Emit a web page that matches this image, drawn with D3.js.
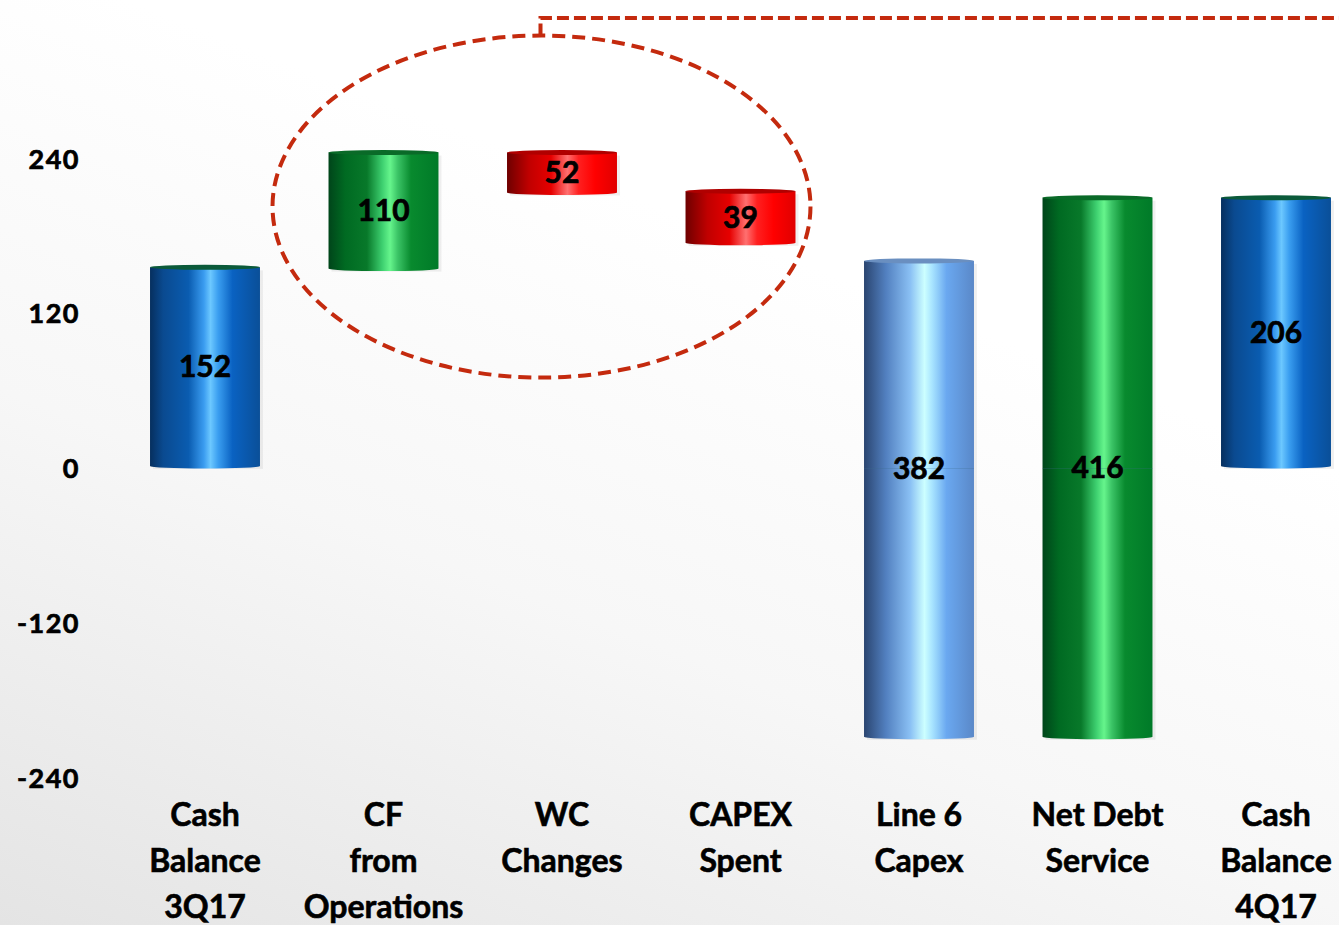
<!DOCTYPE html>
<html>
<head>
<meta charset="utf-8">
<script src="https://cdn.jsdelivr.net/npm/d3@7"></script>
<style>
html,body{margin:0;padding:0;background:#fff;}
svg{display:block;font-family:Lato,'Noto Sans',sans-serif;font-weight:bold;}
</style>
</head>
<body>
<svg id="chart" width="1339" height="925"></svg>
<script>
// categories (multi-line labels)
var categories=[
    ['Cash','Balance','3Q17'],
    ['CF','from','Operations'],
    ['WC','Changes'],
    ['CAPEX','Spent'],
    ['Line 6','Capex'],
    ['Net Debt','Service'],
    ['Cash','Balance','4Q17']
]
// bar extents as drawn (top / bottom in axis units)
var barTop=[156,245,245,215,161,210,210]
var barBottom=[2,155,214,175,-208,-208,2]
// value labels
var labels=[152,110,52,39,382,416,206]
// where the label sits (null = middle of bar)
var labelAt=[null,null,null,null,0,null,null]
var colorKind=['blue','green','red','red','light','green','blue']
var yTicks=[240,120,0,-120,-240]

var svg=d3.select('#chart')
var W=1339,H=925
var defs=svg.append('defs')

// background
var bg=defs.append('linearGradient').attr('id','bg')
    .attr('x1',0).attr('y1',1).attr('x2',0.45).attr('y2',0.2)
bg.append('stop').attr('offset',0).attr('stop-color','#e4e4e4')
bg.append('stop').attr('offset',0.55).attr('stop-color','#f7f7f7')
bg.append('stop').attr('offset',1).attr('stop-color','#ffffff')
svg.append('rect').attr('width',W).attr('height',H).attr('fill','url(#bg)')

var grads={
    blue:[[0,'#062f5e'],[0.12,'#0a4a90'],[0.35,'#0a5cb0'],[0.49,'#3a9cf0'],[0.55,'#6cc8ff'],[0.62,'#3a9ef0'],[0.75,'#0a62c2'],[1,'#0a4f98']],
    green:[[0,'#00451a'],[0.15,'#006a22'],[0.35,'#08792a'],[0.49,'#3ed070'],[0.56,'#66f58c'],[0.63,'#3bc466'],[0.75,'#088a2e'],[1,'#007a28']],
    red:[[0,'#6e0000'],[0.2,'#c00000'],[0.4,'#e60000'],[0.55,'#ff7070'],[0.65,'#ff2020'],[0.8,'#ff0000'],[1,'#e00000']],
    light:[[0,'#2a4570'],[0.2,'#5280c0'],[0.42,'#8ac0f4'],[0.55,'#ccffff'],[0.62,'#a8e4ff'],[0.75,'#6aa8f0'],[1,'#5a88c8']]
}
for(let k in grads){
    var g=defs.append('linearGradient').attr('id','g-'+k)
        .attr('x1',0).attr('y1',0).attr('x2',1).attr('y2',0)
    grads[k].forEach(s=>g.append('stop').attr('offset',s[0]).attr('stop-color',s[1]))
}
var topCol={blue:'#0b5a3a',green:'#0a6a28',red:'#b00000',light:'#6a8fc0'}

var x=d3.scaleBand()
    .domain(d3.range(categories.length))
    .range([115.75,1365.25])
    .paddingInner(0.384).paddingOuter(0.192)
var y=d3.scaleLinear().domain([-240,240]).range([778,159])
var bw=x.bandwidth()

// y tick labels
svg.append('g').selectAll('text')
    .data(yTicks).join('text')
    .attr('x',80).attr('y',d=>y(d))
    .attr('dy','0.36em')
    .attr('text-anchor','end')
    .attr('font-size',27)
    .attr('letter-spacing',1.5)
    .attr('fill','#000').attr('stroke','#000').attr('stroke-width',0.7)
    .text(d=>d)

// bars as cylinders
var bars=svg.append('g').selectAll('g')
    .data(d3.range(categories.length)).join('g')
bars.append('rect')
    .attr('x',i=>x(i)+3).attr('width',bw)
    .attr('y',i=>y(barTop[i])+3).attr('height',i=>y(barBottom[i])-y(barTop[i]))
    .attr('fill','#000').attr('opacity',0.06)
bars.append('path')
    .attr('d',i=>{
        var x0=x(i),x1=x0+bw,t=y(barTop[i]),b=y(barBottom[i]),ry=2.5
        return 'M'+x0+','+t+' L'+x0+','+b+' A'+(bw/2)+','+ry+' 0 0 0 '+x1+','+b+' L'+x1+','+t+' Z'
    })
    .attr('fill',i=>'url(#g-'+colorKind[i]+')')
bars.append('ellipse')
    .attr('cx',i=>x(i)+bw/2).attr('cy',i=>y(barTop[i]))
    .attr('rx',bw/2).attr('ry',2.5)
    .attr('fill',i=>topCol[colorKind[i]])
// faint split line at zero for bars crossing it
bars.filter(i=>barTop[i]>0&&barBottom[i]<-5)
    .append('line')
    .attr('x1',i=>x(i)).attr('x2',i=>x(i)+bw)
    .attr('y1',y(0)).attr('y2',y(0))
    .attr('stroke','#3a6a8a').attr('stroke-opacity',0.25).attr('stroke-width',1)

// value labels
bars.append('text')
    .attr('x',i=>x(i)+bw/2)
    .attr('y',i=>labelAt[i]==null?y((barTop[i]+barBottom[i])/2):y(labelAt[i]))
    .attr('dy','0.36em')
    .attr('text-anchor','middle')
    .attr('font-size',30)
    .attr('fill','#000').attr('stroke','#000').attr('stroke-width',0.7)
    .text(i=>labels[i])

// category labels
var cat=svg.append('g').selectAll('text')
    .data(d3.range(categories.length)).join('text')
    .attr('text-anchor','middle')
    .attr('font-size',32)
    .attr('fill','#000').attr('stroke','#000').attr('stroke-width',0.6)
cat.selectAll('tspan')
    .data(i=>categories[i].map(s=>({s:s,i:i})))
    .join('tspan')
    .attr('x',d=>x(d.i)+bw/2)
    .attr('y',(d,j)=>826+j*46)
    .text(d=>d.s)

// dashed ellipse annotation around the operating items
var exL=x(1)-56,exR=x(3)+bw+15
var eyT=y(barTop[1])-117,eyB=y(barBottom[1])+109
var ecx=(exL+exR)/2
svg.append('ellipse')
    .attr('cx',ecx).attr('cy',(eyT+eyB)/2)
    .attr('rx',(exR-exL)/2).attr('ry',(eyB-eyT)/2)
    .attr('fill','none')
    .attr('stroke','#c42a0e').attr('stroke-width',4)
    .attr('stroke-dasharray','13 7')
svg.append('path')
    .attr('d','M'+(ecx-1)+','+eyT+' V18 H'+W)
    .attr('fill','none')
    .attr('stroke','#c42a0e').attr('stroke-width',4)
    .attr('stroke-dasharray','12 5')
</script>
</body>
</html>
